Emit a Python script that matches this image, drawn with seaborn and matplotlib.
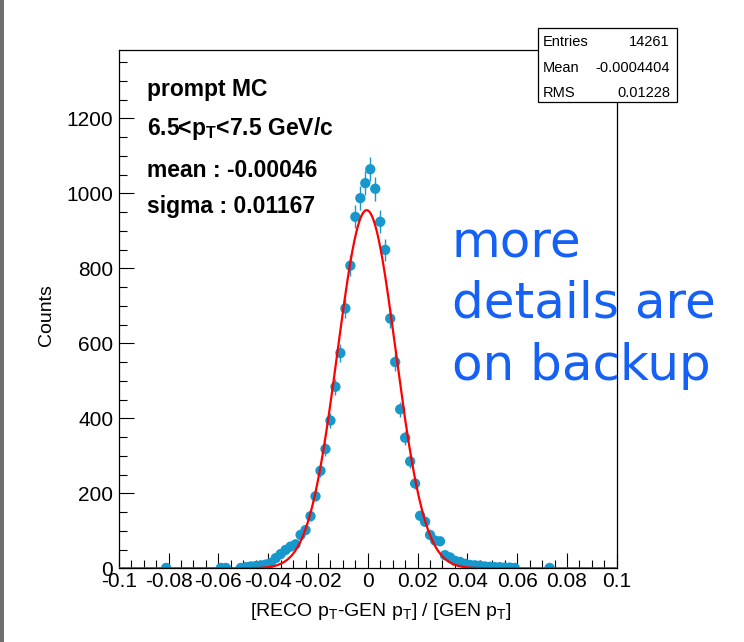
import numpy as np
import pandas as pd
import matplotlib
matplotlib.use("Agg")
import matplotlib.pyplot as plt
import seaborn as sns
from matplotlib.patches import Rectangle
from matplotlib.ticker import MultipleLocator

# ---------------- data ----------------
bin_centers = [-0.081, -0.059, -0.057, -0.051, -0.049, -0.047, -0.045, -0.043,
               -0.041, -0.039, -0.037, -0.035, -0.033, -0.031, -0.029, -0.027,
               -0.025, -0.023, -0.021, -0.019, -0.017, -0.015, -0.013, -0.011,
               -0.009, -0.007, -0.005, -0.003, -0.001, 0.001, 0.003, 0.005,
               0.007, 0.009, 0.011, 0.013, 0.015, 0.017, 0.019, 0.021, 0.023,
               0.025, 0.027, 0.029, 0.031, 0.033, 0.035, 0.037, 0.039, 0.041,
               0.043, 0.045, 0.047, 0.049, 0.051, 0.053, 0.055, 0.057, 0.059,
               0.073]
counts = [1, 1, 1, 1, 3, 5, 6, 8,
          10, 14, 27, 38, 49, 58, 64, 89,
          102, 139, 192, 260, 318, 394, 484, 574,
          693, 807, 937, 987, 1027, 1064, 1012, 924,
          849, 666, 550, 424, 348, 285, 226, 140, 124,
          89, 74, 72, 35, 29, 20, 17, 12, 9,
          8, 7, 5, 4, 3, 3, 2, 2, 1,
          1]

fit_mean = -0.00046
fit_sigma = 0.01167
fit_amplitude = 955.0

x_ticks = [-0.1, -0.08, -0.06, -0.04, -0.02, 0.0, 0.02, 0.04, 0.06, 0.08, 0.1]
x_tick_labels = ["-0.1", "-0.08", "-0.06", "-0.04", "-0.02", "0",
                 "0.02", "0.04", "0.06", "0.08", "0.1"]
y_ticks = [0, 200, 400, 600, 800, 1000, 1200]
y_tick_labels = ["0", "200", "400", "600", "800", "1000", "1200"]

stats_names = ["Entries", "Mean", "RMS"]
stats_values = ["14261", "-0.0004404", "0.01228"]

info_lines = ["prompt MC",
              r"6.5<p$_{\mathbf{T}}$<7.5 GeV/c",
              "mean : -0.00046",
              "sigma : 0.01167"]
note_lines = ["more", "details are", "on backup"]

x_label = r"[RECO p$_{\mathrm{T}}$-GEN p$_{\mathrm{T}}$] / [GEN p$_{\mathrm{T}}$]"
y_label = "Counts"

# ---------------- style ----------------
sns.set_theme(style="white")
plt.rcParams['font.family'] = ['Liberation Sans', 'DejaVu Sans']
plt.rcParams['mathtext.fontset'] = 'custom'
plt.rcParams['mathtext.rm'] = 'Liberation Sans'
plt.rcParams['mathtext.it'] = 'Liberation Sans:italic'
plt.rcParams['mathtext.bf'] = 'Liberation Sans:bold'

W, H = 744, 642
DPI = 100
fig = plt.figure(figsize=(W / DPI, H / DPI), dpi=DPI)
fig.patch.set_facecolor("white")


def fx(px):
    return px / W


def fy(py):
    return 1 - py / H


left_px, right_px, top_px, bottom_px = 118.8, 616.8, 50.0, 568.3
ax = fig.add_axes([fx(left_px), fy(bottom_px), fx(right_px) - fx(left_px),
                   fy(top_px) - fy(bottom_px)])
ax.set_facecolor("white")

blue = "#1798cc"
df = pd.DataFrame({"x": bin_centers, "n": counts})
df["err"] = np.sqrt(df["n"])

ax.errorbar(df["x"], df["n"], yerr=df["err"], fmt="none", ecolor=blue,
            elinewidth=1.0, capsize=0, zorder=3)
sns.scatterplot(data=df, x="x", y="n", color=blue, s=55, linewidth=0,
                edgecolor="none", ax=ax, zorder=4, legend=False)

xs = np.linspace(-0.1, 0.1, 1001)
ys = fit_amplitude * np.exp(-0.5 * ((xs - fit_mean) / fit_sigma) ** 2)
sns.lineplot(x=xs, y=ys, color="red", linewidth=1.6, ax=ax, zorder=5)

ax.set_xlim(-0.1, 0.1)
ax.set_ylim(0, 1382)
ax.set_xticks(x_ticks)
ax.set_xticklabels(x_tick_labels)
ax.set_yticks(y_ticks)
ax.set_yticklabels(y_tick_labels)
ax.xaxis.set_minor_locator(MultipleLocator(0.005))
ax.yaxis.set_minor_locator(MultipleLocator(50))
ax.tick_params(axis="both", which="both", direction="in", color="black",
               bottom=True, left=True, top=False, right=False)
ax.tick_params(axis="both", which="major", length=11, width=0.8,
               labelsize=15, pad=4, labelcolor="black")
ax.tick_params(axis="x", which="major", pad=3)
ax.tick_params(axis="both", which="minor", length=5.5, width=0.8)
ax.set_xlabel("")
ax.set_ylabel("")
for s in ax.spines.values():
    s.set_color("black")
    s.set_linewidth(0.9)

# axis titles
fig.text(fx(381), fy(616), x_label, ha="center", va="baseline", fontsize=14,
         color="black")
fig.text(fx(46), fy(315), y_label, ha="center", va="center", rotation=90,
         fontsize=14, color="black")

# info text
info_baselines = [96, 135, 177, 213]
for line, b in zip(info_lines, info_baselines):
    fig.text(fx(147), fy(b), line, ha="left", va="baseline", fontsize=16.5,
             fontweight="bold", color="black")

# blue note
note_color = "#1560f5"
for line, b in zip(note_lines, [258, 318, 380]):
    fig.text(fx(452), fy(b), line, ha="left", va="baseline", fontsize=36,
             color=note_color, family="DejaVu Sans")

# stats box
bx0, bx1, by0, by1 = 537.5, 676.5, 27.5, 101.5
fig.patches.append(Rectangle((fx(bx0), fy(by1)), fx(bx1) - fx(bx0),
                             fy(by0) - fy(by1), transform=fig.transFigure,
                             facecolor="white", edgecolor="black",
                             linewidth=0.9, zorder=10))
for i, (nm, val) in enumerate(zip(stats_names, stats_values)):
    yb = [46, 72, 97][i]
    fig.text(fx(543), fy(yb), nm, ha="left", va="baseline", fontsize=10.5,
             color="black", zorder=11)
    fig.text(fx(670), fy(yb), val, ha="right", va="baseline", fontsize=10.5,
             color="black", zorder=11)

# left grey border of the slide
fig.patches.append(Rectangle((0, 0), fx(4), 1, transform=fig.transFigure,
                             facecolor="#6e6e6e", edgecolor="none", zorder=10))

fig.savefig("out.png", dpi=DPI)
